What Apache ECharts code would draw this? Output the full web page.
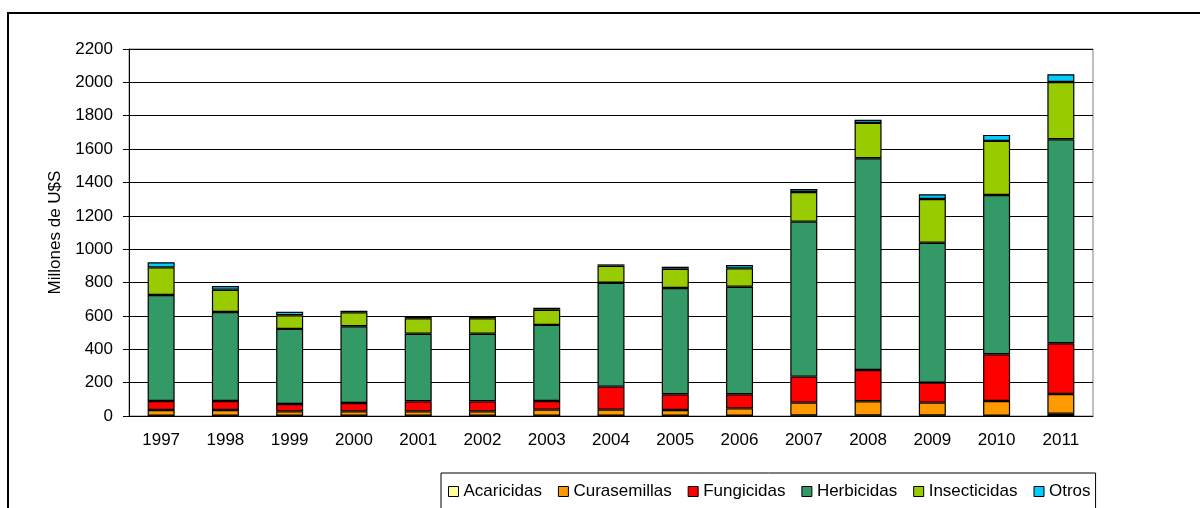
<!DOCTYPE html>
<html>
<head>
<meta charset="utf-8">
<script src="https://cdn.jsdelivr.net/npm/echarts@6/dist/echarts.min.js"></script>
<style>
  html, body { margin: 0; padding: 0; background: #fff; }
  #chart { width: 1200px; height: 508px; }
</style>
</head>
<body>
<div id="chart"></div>
<script>
// Ventas por tipo de producto, millones de U$S
const years = ['1997', '1998', '1999', '2000', '2001', '2002', '2003', '2004',
  '2005', '2006', '2007', '2008', '2009', '2010', '2011'];

const acaricidas   = [2, 2, 2, 2, 2, 2, 2, 2, 2, 2, 3, 3, 3, 2, 14];
const curasemillas = [34, 34, 26, 26, 26, 26, 36, 36, 34, 44, 77, 85, 77, 88, 118];
const fungicidas   = [54, 54, 44, 50, 60, 60, 52, 138, 94, 84, 156, 188, 120, 280, 304];
const herbicidas   = [635, 533, 450, 460, 405, 405, 456, 623, 637, 645, 929, 1269, 839, 955, 1223];
const insecticidas = [166, 134, 82, 84, 93, 93, 91, 102, 116, 110, 178, 212, 262, 324, 343];
const otros        = [30, 22, 21, 9, 9, 8, 12, 8, 12, 20, 18, 19, 28, 36, 47];

const FONT = "'Liberation Sans', Arial, sans-serif";

const seriesDefs = [
  { name: 'Acaricidas', data: acaricidas, color: '#FFFF99' },
  { name: 'Curasemillas', data: curasemillas, color: '#FF9900' },
  { name: 'Fungicidas', data: fungicidas, color: '#FF0000' },
  { name: 'Herbicidas', data: herbicidas, color: '#339966' },
  { name: 'Insecticidas', data: insecticidas, color: '#99CC00' },
  { name: 'Otros', data: otros, color: '#00CCFF' }
];

const chart = echarts.init(document.getElementById('chart'));

chart.setOption({
  animation: false,
  textStyle: { fontFamily: FONT, color: '#000' },
  graphic: [{
    type: 'rect',
    shape: { x: 8, y: 13, width: 1300, height: 600 },
    style: { fill: 'none', stroke: '#000', lineWidth: 2 },
    silent: true
  }],
  grid: {
    left: 129, right: 107, top: 49, bottom: 92,
    show: true, borderColor: '#808080', borderWidth: 1
  },
  legend: {
    left: 441, top: 473,
    orient: 'horizontal',
    icon: 'rect',
    itemWidth: 10, itemHeight: 10, itemGap: 16,
    padding: [10, 5, 30, 7],
    borderColor: '#000', borderWidth: 1,
    itemStyle: { borderColor: '#000', borderWidth: 1 },
    textStyle: { fontFamily: FONT, fontSize: 17, color: '#000' },
    data: seriesDefs.map(s => s.name)
  },
  xAxis: {
    type: 'category',
    data: years,
    axisLine: { lineStyle: { color: '#000', width: 1 } },
    axisTick: { length: 6, lineStyle: { color: '#000' } },
    axisLabel: { fontFamily: FONT, fontSize: 17, color: '#000', margin: 16 }
  },
  yAxis: {
    type: 'value',
    min: 0, max: 2200, interval: 200,
    name: 'Millones de U$S',
    nameLocation: 'middle',
    nameGap: 54,
    nameTextStyle: { fontFamily: FONT, fontSize: 17, color: '#000' },
    axisLine: { show: true, lineStyle: { color: '#000', width: 1 } },
    axisTick: { show: true, length: 6, lineStyle: { color: '#000' } },
    axisLabel: {
      fontFamily: FONT, fontSize: 17, color: '#000', margin: 16,
      formatter: v => String(v)
    },
    splitLine: { lineStyle: { color: '#000', width: 1 } }
  },
  series: seriesDefs.map(s => ({
    name: s.name,
    type: 'bar',
    stack: 'total',
    barWidth: 27,
    data: s.data,
    itemStyle: { color: s.color, borderColor: '#000', borderWidth: 1.2 }
  }))
});
</script>
</body>
</html>
